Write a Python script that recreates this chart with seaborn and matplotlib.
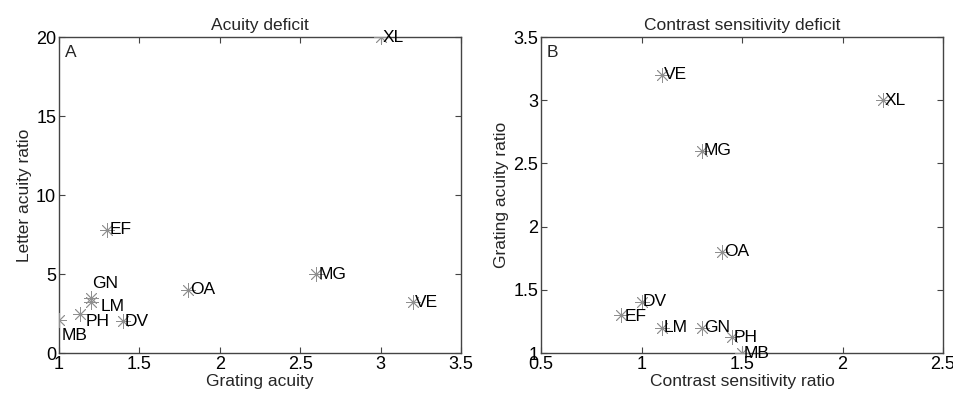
import matplotlib
matplotlib.use("Agg")
import matplotlib.pyplot as plt
import seaborn as sns
import pandas as pd

# Subjects and their deficit measures
subjects = ["XL", "EF", "GN", "LM", "MB", "PH", "DV", "OA", "MG", "VE"]
grating_acuity = [3.0, 1.3, 1.2, 1.2, 1.0, 1.13, 1.4, 1.8, 2.6, 3.2]
letter_acuity_ratio = [20.0, 7.8, 3.5, 3.2, 2.1, 2.5, 2.0, 4.0, 5.0, 3.2]
contrast_sensitivity_ratio = [2.2, 0.9, 1.3, 1.1, 1.5, 1.45, 1.0, 1.4, 1.3, 1.1]

df = pd.DataFrame({
    "subject": subjects,
    "grating": grating_acuity,
    "letter": letter_acuity_ratio,
    "contrast": contrast_sensitivity_ratio,
})

# label offsets (points) from each marker
offsets_a = {"GN": (1, 10), "LM": (7, -3), "PH": (4, -6), "MB": (2, -11),
             "DV": (1, 0)}
offsets_b = {"DV": (1, 1), "EF": (2, -1), "PH": (1, -1), "MB": (1, 0)}

sns.set_theme(style="white")
plt.rcParams["font.family"] = ["Liberation Sans", "DejaVu Sans"]

fig = plt.figure(figsize=(9.54, 3.97), dpi=100)
ax_a = fig.add_axes([0.0618, 0.1108, 0.4214, 0.7960])
ax_b = fig.add_axes([0.5671, 0.1108, 0.4214, 0.7960])

# eight-spoke asterisk marker
marker_kw = dict(marker=(8, 2, 0), color="#8f8f8f", s=100, linewidth=0.6,
                 legend=False, zorder=3)

sns.scatterplot(data=df, x="grating", y="letter", ax=ax_a, **marker_kw)
sns.scatterplot(data=df, x="contrast", y="grating", ax=ax_b, **marker_kw)

LABEL_FS = 12.5
for _, r in df.iterrows():
    dx, dy = offsets_a.get(r.subject, (1.5, 0))
    ax_a.annotate(r.subject, (r.grating, r.letter), xytext=(dx, dy),
                  textcoords="offset points", ha="left", va="center",
                  fontsize=LABEL_FS, color="black", zorder=4,
                  annotation_clip=False)
    dx, dy = offsets_b.get(r.subject, (1.5, 0))
    ax_b.annotate(r.subject, (r.contrast, r.grating), xytext=(dx, dy),
                  textcoords="offset points", ha="left", va="center",
                  fontsize=LABEL_FS, color="black", zorder=4,
                  annotation_clip=False)

def style(ax, xlim, ylim, xticks, yticks, title, xlabel, ylabel, tag):
    ax.set_xlim(*xlim)
    ax.set_ylim(*ylim)
    ax.set_xticks(xticks)
    ax.set_yticks(yticks)
    ax.set_xticklabels([f"{t:g}" for t in xticks])
    ax.set_yticklabels([f"{t:g}" for t in yticks])
    ax.set_title(title, fontsize=12.5, pad=5)
    ax.set_xlabel(xlabel, fontsize=12.5, labelpad=1)
    ax.set_ylabel(ylabel, fontsize=12.5, labelpad=3)
    ax.tick_params(direction="in", length=4, width=0.8,
                   labelsize=13, top=True, right=True, bottom=True, left=True,
                   pad=2)
    ax.tick_params(axis="both", colors="#444444", labelcolor="black")
    for sp in ax.spines.values():
        sp.set_visible(True)
        sp.set_color("#444444")
        sp.set_linewidth(1.0)
    ax.grid(False)
    ax.text(0.015, 0.975, tag, transform=ax.transAxes, ha="left", va="top",
            fontsize=12.5)

style(ax_a, (1, 3.5), (0, 20), [1, 1.5, 2, 2.5, 3, 3.5], [0, 5, 10, 15, 20],
      "Acuity deficit", "Grating acuity", "Letter acuity ratio", "A")
style(ax_b, (0.5, 2.5), (1, 3.5), [0.5, 1, 1.5, 2, 2.5],
      [1, 1.5, 2, 2.5, 3, 3.5],
      "Contrast sensitivity deficit", "Contrast sensitivity ratio",
      "Grating acuity ratio", "B")

fig.savefig("out.png", dpi=100, facecolor="white")
